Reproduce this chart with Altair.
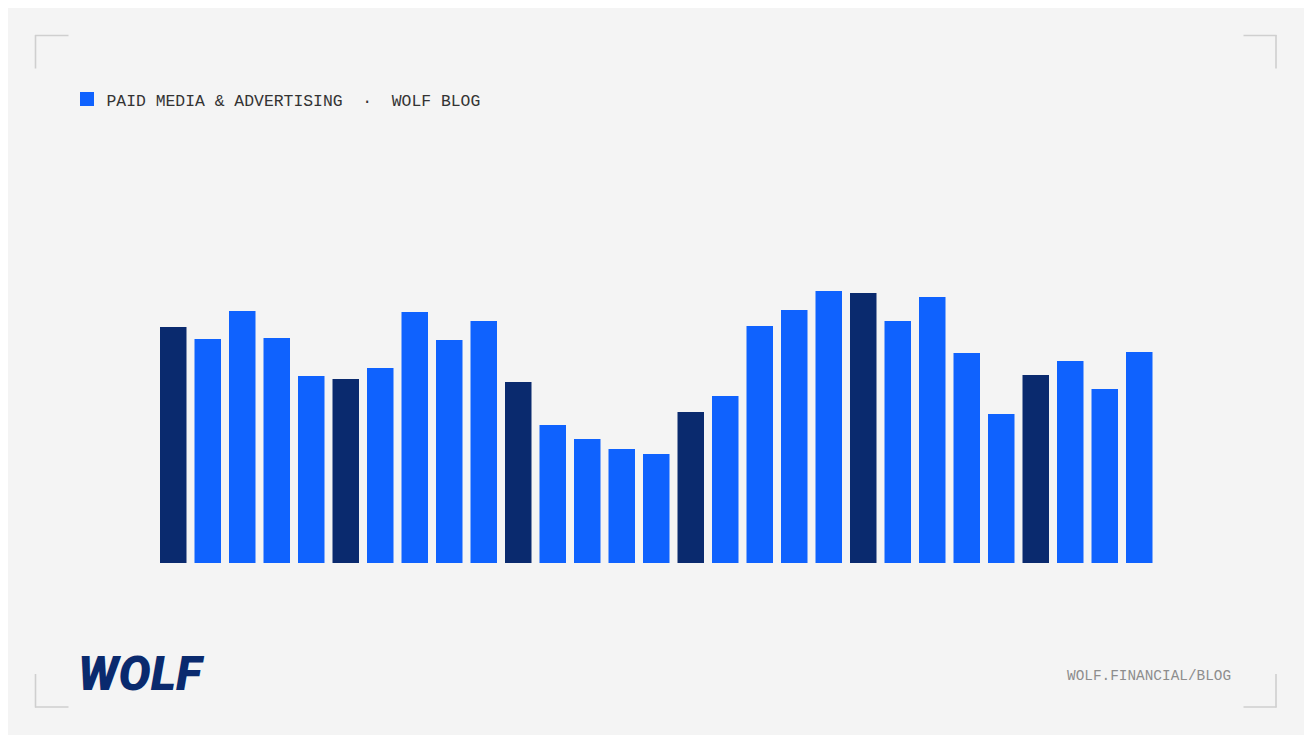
import altair as alt
import pandas as pd

# ---- data ----
periods = list(range(1, 30))
values = [236, 224, 252, 225, 187, 184, 195, 251, 223, 242,
          181, 138, 124, 114, 109, 151, 167, 237, 253, 272,
          270, 242, 266, 210, 149, 188, 202, 174, 211]
tones = ["dark" if (i % 5 == 0) else "blue" for i in range(29)]

legend_label = "PAID MEDIA & ADVERTISING\u00a0\u00a0·\u00a0\u00a0WOLF BLOG"
footer_label = "WOLF.FINANCIAL/BLOG"
logo_label = "WOLF"

BLUE = "#0f62fe"
DARK = "#0a2a6e"
BG = "#f4f4f4"
CORNER = "#cfcfcf"

df = pd.DataFrame({"period": periods, "value": values, "tone": tones})
one = pd.DataFrame({"a": [0]})

# plot area origin on page: (160, 263)
OX, OY = 160, 263

bars = alt.Chart(df).mark_bar().encode(
    x=alt.X("period:O", axis=None,
            scale=alt.Scale(paddingInner=0.232, paddingOuter=0)),
    y=alt.Y("value:Q", axis=None, scale=alt.Scale(domain=[0, 300], nice=False)),
    color=alt.Color("tone:N", legend=None,
                    scale=alt.Scale(domain=["dark", "blue"], range=[DARK, BLUE])),
)


def seg(x1, y1, x2, y2):
    return alt.Chart(one).mark_rule(color=CORNER, strokeWidth=1.6).encode(
        x=alt.value(x1 - OX), x2=alt.value(x2 - OX),
        y=alt.value(y1 - OY), y2=alt.value(y2 - OY),
    )


corners = [
    seg(35.5, 35, 35.5, 68.5), seg(35, 35.5, 68.5, 35.5),
    seg(1276, 35, 1276, 68.5), seg(1243.5, 35.5, 1276.5, 35.5),
    seg(35.5, 674, 35.5, 707.5), seg(35, 707, 68.5, 707),
    seg(1276, 674, 1276, 707.5), seg(1243.5, 707, 1276.5, 707),
]

swatch = alt.Chart(one).mark_rect(color=BLUE).encode(
    x=alt.value(80 - OX), x2=alt.value(94 - OX),
    y=alt.value(92 - OY), y2=alt.value(106 - OY),
)

legend_text = alt.Chart(one).mark_text(
    text=legend_label, align="left", baseline="alphabetic",
    font="Liberation Mono", fontSize=16.4, color="#333333",
).encode(x=alt.value(106.5 - OX), y=alt.value(106 - OY))

footer_text = alt.Chart(one).mark_text(
    text=footer_label, align="left", baseline="alphabetic",
    font="Liberation Mono", fontSize=14.4, color="#8d8d8d",
).encode(x=alt.value(1067 - OX), y=alt.value(679.5 - OY))

logo = alt.Chart(one).mark_text(
    text=logo_label, align="left", baseline="alphabetic",
    font="Roboto", fontSize=48, fontWeight=900, fontStyle="italic",
    color=DARK,
).encode(x=alt.value(78 - OX), y=alt.value(689.5 - OY))

chart = alt.layer(bars, swatch, legend_text, footer_text, logo, *corners).properties(
    width=992.5, height=300,
    autosize="none",
    padding={"left": 152, "top": 255, "right": 151.5, "bottom": 172},
    background=BG,
).configure_view(stroke=None)

chart.save("out.html", embed_options={"renderer": "svg", "actions": False})
